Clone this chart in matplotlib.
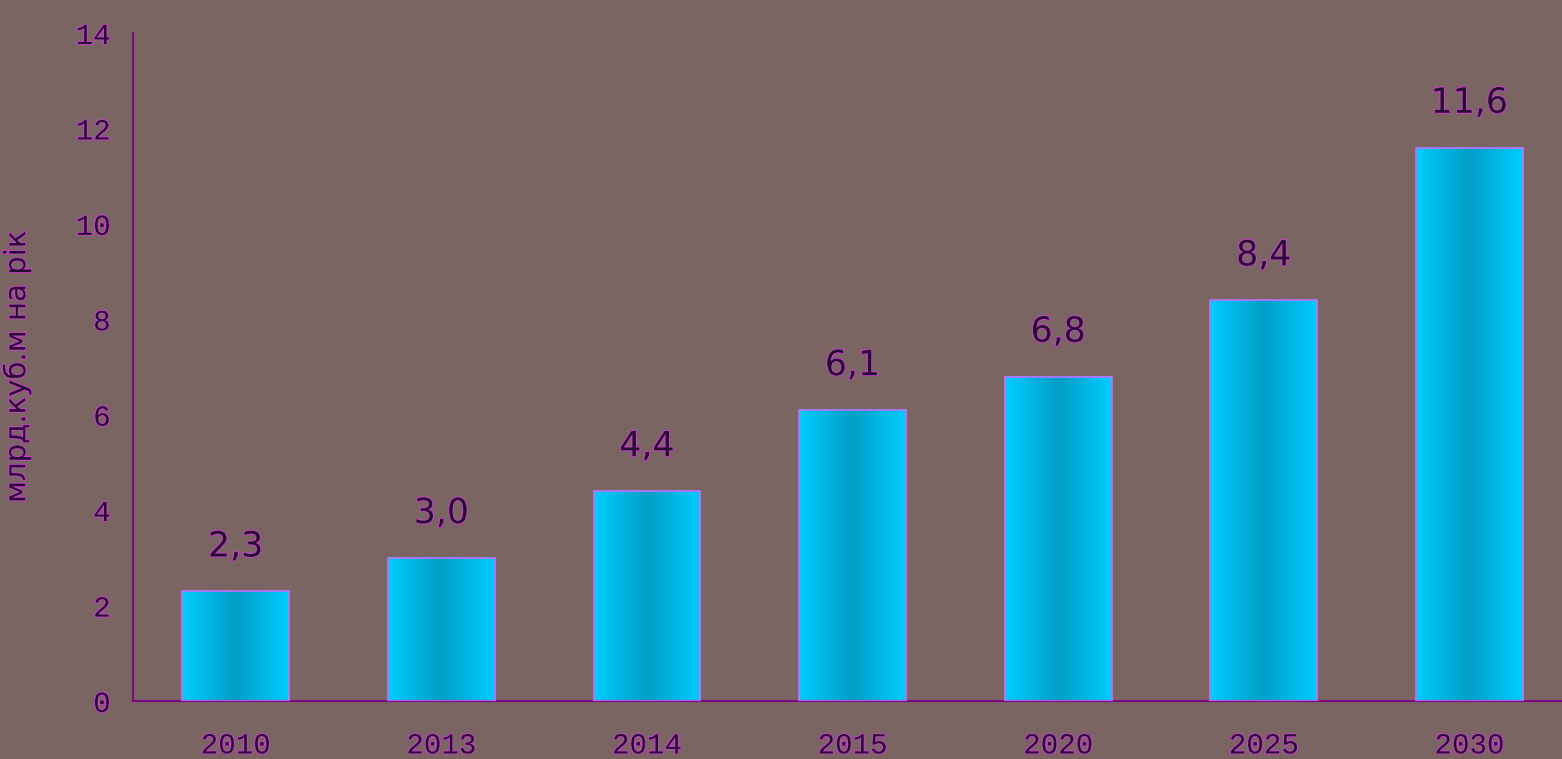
import numpy as np
import matplotlib
matplotlib.use("Agg")
from matplotlib import pyplot as plt
import matplotlib.patheffects as pe
from matplotlib.colors import LinearSegmentedColormap

years = ["2010", "2013", "2014", "2015", "2020", "2025", "2030"]
values = [2.3, 3.0, 4.4, 6.1, 6.8, 8.4, 11.6]
labels = ["2,3", "3,0", "4,4", "6,1", "6,8", "8,4", "11,6"]
yticks = [0, 2, 4, 6, 8, 10, 12, 14]

bg = "#7a6562"
axis_col = "#7a0a86"
text_col = "#22102c"
outline = [pe.withStroke(linewidth=1.3, foreground="#d838e0")]

fig = plt.figure(figsize=(15.62, 7.59), dpi=100)
fig.patch.set_facecolor(bg)
ax = fig.add_axes([0.0851, 0.0764, 0.9149, 0.8801])
ax.set_facecolor(bg)

# horizontal gradient for the bars: bright edges, darker middle
cmap = LinearSegmentedColormap.from_list("cyan_bar", ["#00ccff", "#009fc6", "#00ccff"])
grad = np.linspace(0, 1, 256).reshape(1, -1)

x = np.arange(len(years))
w = 0.52
bars = ax.bar(x, values, width=w, color="none", edgecolor="#c070ff", linewidth=1.2, zorder=3)
for b in bars:
    x0, y0, bw, bh = b.get_x(), b.get_y(), b.get_width(), b.get_height()
    ax.imshow(grad, cmap=cmap, aspect="auto", extent=[x0, x0 + bw, y0, y0 + bh],
              interpolation="bicubic", zorder=2)

for xi, v, lab in zip(x, values, labels):
    ax.annotate(lab, (xi, v), xytext=(0, 20), textcoords="offset points",
                ha="center", va="bottom", fontsize=25, color=text_col,
                path_effects=outline, zorder=4)

ax.set_xlim(-0.5, 6.45)
ax.set_ylim(0, 14)
ax.set_xticks(x)
ax.set_xticklabels(years)
ax.set_yticks(yticks)

for s in ["top", "right"]:
    ax.spines[s].set_visible(False)
for s in ["left", "bottom"]:
    ax.spines[s].set_color(axis_col)
    ax.spines[s].set_linewidth(1.5)

ax.tick_params(length=0, labelsize=21, labelcolor=text_col)
ax.tick_params(axis="x", pad=32)
ax.tick_params(axis="y", pad=16)
for t in ax.get_xticklabels() + ax.get_yticklabels():
    t.set_family("Liberation Mono")
    t.set_path_effects(outline)
for t in ax.get_xticklabels():
    t.set_va("center")

ax.set_ylabel("млрд.куб.м на рік", fontsize=21, color=text_col, labelpad=32,
              path_effects=outline)

fig.savefig("out.png", dpi=100, facecolor=bg)
